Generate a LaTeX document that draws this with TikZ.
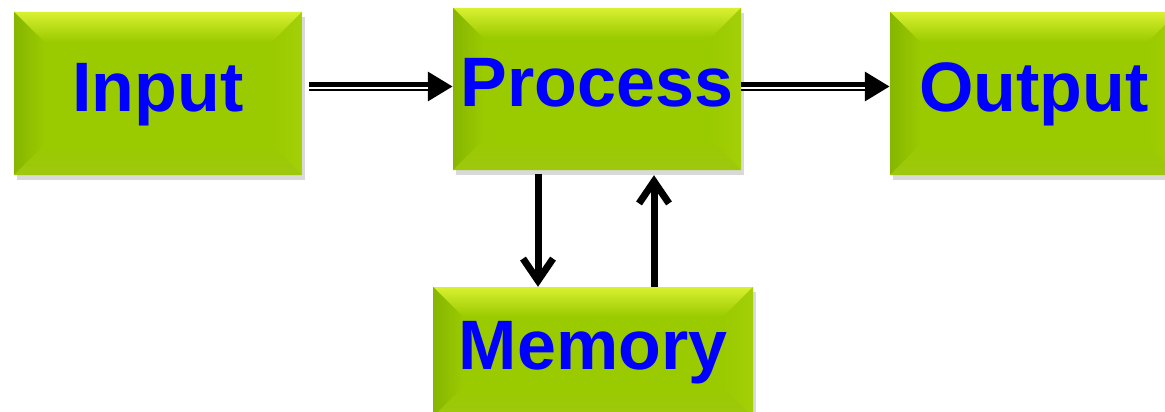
\documentclass[tikz,border=0pt]{standalone}
\usepackage{fontspec}
\setmainfont{Liberation Sans}
\usepackage{xcolor}
\usepackage{tikz}
\usetikzlibrary{shapes,arrows.meta,positioning,shadows,calc}

\definecolor{boxgreen}{RGB}{154,202,0}
\definecolor{bevlight}{RGB}{216,240,48}
\definecolor{bevdark}{RGB}{134,182,0}
\definecolor{labelblue}{RGB}{0,0,255}

\begin{document}
\begin{tikzpicture}[
    x=1pt, y=-1pt,
    box/.style={rectangle, fill=boxgreen, minimum width=288pt, minimum height=163pt, inner sep=0pt,
        text=labelblue, font=\fontsize{70}{80}\selectfont\bfseries, text height=50pt, text depth=15pt,
        drop shadow={opacity=0.3, shadow xshift=3pt, shadow yshift=-5pt},
        path picture={
            \coordinate (nw) at (path picture bounding box.north west);
            \coordinate (ne) at (path picture bounding box.north east);
            \coordinate (sw) at (path picture bounding box.south west);
            \coordinate (se) at (path picture bounding box.south east);
            \shade[top color=bevlight, bottom color=boxgreen] (nw) -- (ne) -- ($(ne)+(-30,30)$) -- ($(nw)+(30,30)$) -- cycle;
            \shade[left color=bevdark, right color=boxgreen] (nw) -- ($(nw)+(30,30)$) -- ($(sw)+(30,-30)$) -- (sw) -- cycle;
            \shade[top color=boxgreen, bottom color=bevdark!70!bevlight] (sw) -- ($(sw)+(30,-30)$) -- ($(se)+(-30,-30)$) -- (se) -- cycle;
            \shade[left color=boxgreen, right color=boxgreen!85!bevlight] (ne) -- (se) -- ($(se)+(-30,-30)$) -- ($(ne)+(-30,30)$) -- cycle;
        }},
    flow/.style={line width=9pt, -{Triangle[length=25pt,width=28pt]}},
    gap/.style={white, line width=1.8pt},
    link/.style={line width=7pt, -{Straight Barb[length=22pt,width=30pt]}},
]
    \useasboundingbox (0,0) rectangle (1165,412);
    \clip (0,0) rectangle (1165,412);

    \node[box] (input) at (158,93.5) {Input};
    \node[box, minimum height=162pt] (process) at (597,89) {Process};
    \node[box] (output) at (1034,93.5) {Output};
    \node[box, minimum width=320pt, minimum height=130pt] (memory) at (593,352) {Memory};

    % horizontal flow
    \draw[flow, shorten <=7pt] (input.east |- 0,86.5) -- (process.west |- 0,86.5);
    \draw[gap, shorten <=7pt, shorten >=25pt] (input.east |- 0,88) -- (process.west |- 0,88);
    \draw[flow] (process.east |- 0,86.5) -- (output.west |- 0,86.5);
    \draw[gap, shorten >=25pt] (process.east |- 0,88) -- (output.west |- 0,88);

    % to and from memory
    \draw[link, shorten <=4pt] (process.south -| 538,0) -- (memory.north -| 538,0);
    \draw[link, shorten >=5pt] (memory.north -| 654,0) -- (process.south -| 654,0);
\end{tikzpicture}
\end{document}
